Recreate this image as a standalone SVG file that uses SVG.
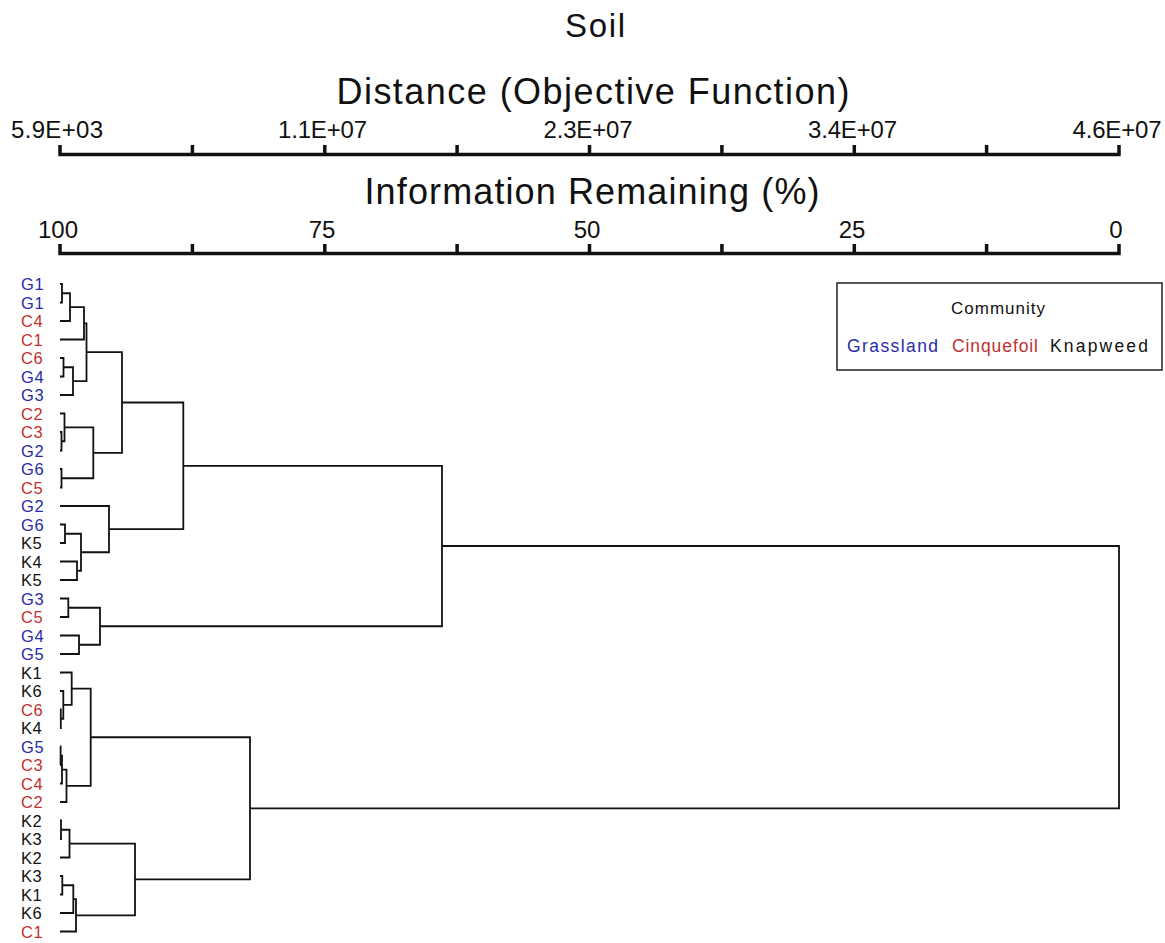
<svg xmlns="http://www.w3.org/2000/svg" width="1165" height="943" viewBox="0 0 1165 943">
  <style>
    text { font-family: "Liberation Sans", Arial, sans-serif; fill: #111; }
    .title { font-size: 33px; text-anchor: middle; }
    .axis-title { font-size: 36px; text-anchor: middle; }
    .tick-label { font-size: 24px; text-anchor: middle; }
    .leaf { font-size: 16.5px; letter-spacing: 0.6px; }
    .legend-head { font-size: 17px; text-anchor: middle; }
    .legend-item { font-size: 17.5px; }
    .g { fill: #2a2aa8; }
    .c { fill: #c23030; }
    .k { fill: #111; }
    .axis { stroke: #111; stroke-width: 3.5; fill: none; }
    .branch { stroke: #111; stroke-width: 1.8; fill: none; }
  </style>

  <rect width="1165" height="943" fill="#fff"/>

  <!-- Titles -->
  <text class="title" x="595" y="37" textLength="60">Soil</text>
  <text class="axis-title" x="593" y="104" textLength="513">Distance (Objective Function)</text>
  <text class="axis-title" x="592" y="204" textLength="455">Information Remaining (%)</text>

  <!-- Distance axis -->
  <g id="axis-distance">
    <path class="axis" d="M58.3 154.5 H1120.7 M60 145 V154.5 M192.4 145 V154.5 M324.8 145 V154.5 M457.1 145 V154.5 M589.5 145 V154.5 M721.9 145 V154.5 M854.3 145 V154.5 M986.6 145 V154.5 M1119 145 V154.5"/>
    <text class="tick-label" x="57" y="138" textLength="92">5.9E+03</text>
    <text class="tick-label" x="322.5" y="138" textLength="89">1.1E+07</text>
    <text class="tick-label" x="588" y="138" textLength="89">2.3E+07</text>
    <text class="tick-label" x="852.5" y="138" textLength="89">3.4E+07</text>
    <text class="tick-label" x="1117" y="138" textLength="89">4.6E+07</text>
  </g>

  <!-- Information remaining axis -->
  <g id="axis-info">
    <path class="axis" d="M58.3 253.5 H1120.7 M60 244 V253.5 M192.4 244 V253.5 M324.8 244 V253.5 M457.1 244 V253.5 M589.5 244 V253.5 M721.9 244 V253.5 M854.3 244 V253.5 M986.6 244 V253.5 M1119 244 V253.5"/>
    <text class="tick-label" x="58" y="238">100</text>
    <text class="tick-label" x="322" y="238">75</text>
    <text class="tick-label" x="587" y="238">50</text>
    <text class="tick-label" x="852" y="238">25</text>
    <text class="tick-label" x="1116" y="238">0</text>
  </g>

  <!-- Legend -->
  <g id="legend">
    <rect x="837" y="283" width="325" height="87" fill="#fff" stroke="#222" stroke-width="1.5"/>
    <text class="legend-head" x="998" y="314" textLength="94">Community</text>
    <text class="legend-item g" x="847" y="352" textLength="91">Grassland</text>
    <text class="legend-item c" x="952" y="352" textLength="86">Cinquefoil</text>
    <text class="legend-item k" x="1050" y="352" textLength="98">Knapweed</text>
  </g>

  <!-- Leaves -->
  <g id="leaf-00"><text class="leaf g" x="21" y="290">G1</text></g>
  <g id="leaf-01"><text class="leaf g" x="21" y="308.5">G1</text></g>
  <g id="leaf-02"><text class="leaf c" x="21" y="327">C4</text></g>
  <g id="leaf-03"><text class="leaf c" x="21" y="345.5">C1</text></g>
  <g id="leaf-04"><text class="leaf c" x="21" y="364">C6</text></g>
  <g id="leaf-05"><text class="leaf g" x="21" y="382.5">G4</text></g>
  <g id="leaf-06"><text class="leaf g" x="21" y="401">G3</text></g>
  <g id="leaf-07"><text class="leaf c" x="21" y="419.5">C2</text></g>
  <g id="leaf-08"><text class="leaf c" x="21" y="438">C3</text></g>
  <g id="leaf-09"><text class="leaf g" x="21" y="456.5">G2</text></g>
  <g id="leaf-10"><text class="leaf g" x="21" y="475">G6</text></g>
  <g id="leaf-11"><text class="leaf c" x="21" y="493.5">C5</text></g>
  <g id="leaf-12"><text class="leaf g" x="21" y="512">G2</text></g>
  <g id="leaf-13"><text class="leaf g" x="21" y="530.5">G6</text></g>
  <g id="leaf-14"><text class="leaf k" x="21" y="549">K5</text></g>
  <g id="leaf-15"><text class="leaf k" x="21" y="567.5">K4</text></g>
  <g id="leaf-16"><text class="leaf k" x="21" y="586">K5</text></g>
  <g id="leaf-17"><text class="leaf g" x="21" y="604.5">G3</text></g>
  <g id="leaf-18"><text class="leaf c" x="21" y="623">C5</text></g>
  <g id="leaf-19"><text class="leaf g" x="21" y="641.5">G4</text></g>
  <g id="leaf-20"><text class="leaf g" x="21" y="660">G5</text></g>
  <g id="leaf-21"><text class="leaf k" x="21" y="678.5">K1</text></g>
  <g id="leaf-22"><text class="leaf k" x="21" y="697">K6</text></g>
  <g id="leaf-23"><text class="leaf c" x="21" y="715.5">C6</text></g>
  <g id="leaf-24"><text class="leaf k" x="21" y="734">K4</text></g>
  <g id="leaf-25"><text class="leaf g" x="21" y="752.5">G5</text></g>
  <g id="leaf-26"><text class="leaf c" x="21" y="771">C3</text></g>
  <g id="leaf-27"><text class="leaf c" x="21" y="789.5">C4</text></g>
  <g id="leaf-28"><text class="leaf c" x="21" y="808">C2</text></g>
  <g id="leaf-29"><text class="leaf k" x="21" y="826.5">K2</text></g>
  <g id="leaf-30"><text class="leaf k" x="21" y="845">K3</text></g>
  <g id="leaf-31"><text class="leaf k" x="21" y="863.5">K2</text></g>
  <g id="leaf-32"><text class="leaf k" x="21" y="882">K3</text></g>
  <g id="leaf-33"><text class="leaf k" x="21" y="900.5">K1</text></g>
  <g id="leaf-34"><text class="leaf k" x="21" y="919">K6</text></g>
  <g id="leaf-35"><text class="leaf c" x="21" y="937.5">C1</text></g>

  <!-- Dendrogram branches: each path joins two children at the merge level -->
  <g id="branches" class="branch">
    <path d="M60 284 H62 V302.5 H60"/>
    <path d="M62 293.25 H70 V321 H60"/>
    <path d="M70 307.1 H84 V339.5 H60"/>
    <path d="M60 358 H63.5 V376.5 H60"/>
    <path d="M63.5 367.25 H73 V395 H60"/>
    <path d="M84 323.3 H86.5 V381.1 H73"/>
    <path d="M60 432 H61.5 V450.5 H60"/>
    <path d="M60 413.5 H64.5 V441.25 H61.5"/>
    <path d="M60 469 H61.5 V487.5 H60"/>
    <path d="M64.5 427.4 H93.3 V478.25 H61.5"/>
    <path d="M86.5 352.2 H122 V452.8 H93.3"/>
    <path d="M60 524.5 H65 V543 H60"/>
    <path d="M60 561.5 H77 V580 H60"/>
    <path d="M65 533.75 H81 V570.75 H77"/>
    <path d="M60 506 H109 V552.25 H81"/>
    <path d="M122 402.5 H183.3 V529.1 H109"/>
    <path d="M60 598.5 H68.3 V617 H60"/>
    <path d="M60 635.5 H79 V654 H60"/>
    <path d="M68.3 607.75 H100 V644.75 H79"/>
    <path d="M183.3 465.8 H442 V626.25 H100"/>
    <path d="M60 709.5 H60.8 V728 H60"/>
    <path d="M60 691 H63.3 V718.75 H60.8"/>
    <path d="M60 672.5 H71.7 V704.9 H63.3"/>
    <path d="M60 746.5 H60.6 V765 H60"/>
    <path d="M60.6 755.75 H62 V783.5 H60"/>
    <path d="M62 769.6 H66.5 V802 H60"/>
    <path d="M71.7 688.7 H90.7 V785.8 H66.5"/>
    <path d="M60 820.5 H61 V839 H60"/>
    <path d="M61 829.75 H69.5 V857.5 H60"/>
    <path d="M60 876 H62.3 V894.5 H60"/>
    <path d="M62.3 885.25 H73.3 V913 H60"/>
    <path d="M73.3 899.1 H76 V931.5 H60"/>
    <path d="M69.5 843.6 H135 V915.3 H76"/>
    <path d="M90.7 737.25 H250 V879.45 H135"/>
    <path d="M442 546 H1119 V808.35 H250"/>
  </g>
</svg>
